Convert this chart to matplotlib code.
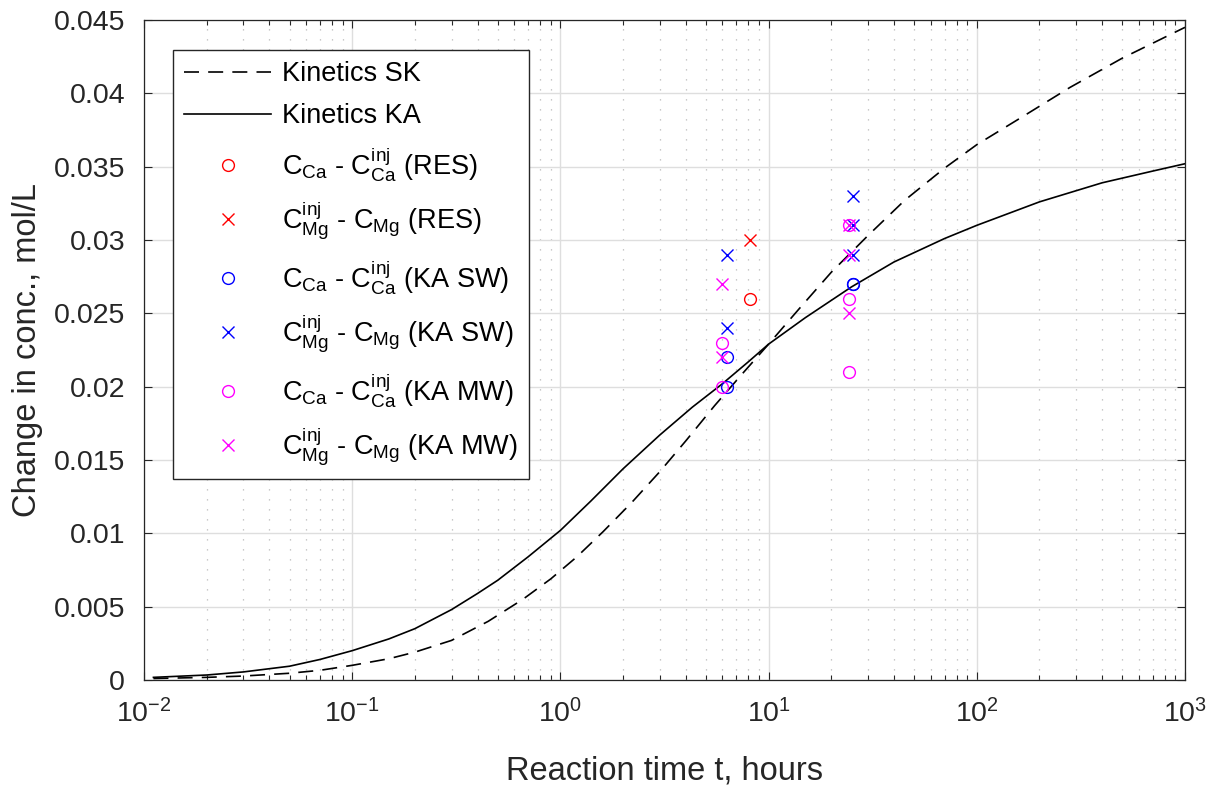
import matplotlib
matplotlib.use("Agg")
import matplotlib.pyplot as plt
from matplotlib.ticker import FixedLocator, FixedFormatter, LogLocator, NullFormatter

plt.rcParams['font.family'] = ['Liberation Sans', 'DejaVu Sans']
plt.rcParams['mathtext.default'] = 'regular'

# ---- data ----
t_ka = [0.0111, 0.02, 0.03, 0.05, 0.07, 0.1, 0.15, 0.2, 0.3, 0.4, 0.5, 0.7, 1.0, 1.4,
        2.0, 3.0, 4.3, 6.0, 8.0, 10, 15, 25, 40, 70, 100, 200, 400, 700, 1000]
c_ka = [0.00018, 0.00034, 0.00055, 0.00094, 0.0014, 0.0020, 0.0028, 0.0035, 0.0048,
        0.0059, 0.0068, 0.0084, 0.0102, 0.0122, 0.0144, 0.0167, 0.0186, 0.0202, 0.0217,
        0.0229, 0.0247, 0.0268, 0.0285, 0.0301, 0.0310, 0.0326, 0.0339, 0.0347, 0.0352]

t_sk = [0.0111, 0.02, 0.03, 0.05, 0.07, 0.1, 0.15, 0.2, 0.3, 0.45, 0.66, 0.9, 1.2, 1.6,
        2.2, 3.0, 4.0, 5.5, 7.5, 10, 14, 20, 30, 45, 70, 100, 170, 280, 500, 1000]
c_sk = [0.0001, 0.00018, 0.00027, 0.00046, 0.00066, 0.0010, 0.00145, 0.0019, 0.0027,
        0.0040, 0.0055, 0.0069, 0.0084, 0.0101, 0.0121, 0.0142, 0.0163, 0.0187, 0.0209,
        0.0229, 0.0253, 0.0278, 0.0303, 0.0327, 0.0349, 0.0365, 0.0385, 0.0404, 0.0424,
        0.0445]

# RES
t_res_ca = [8.1]
c_res_ca = [0.026]
t_res_mg = [8.1]
c_res_mg = [0.030]
# KA SW
t_sw_ca = [6.3, 6.3, 25.4, 25.4]
c_sw_ca = [0.022, 0.020, 0.027, 0.027]
t_sw_mg = [6.3, 6.3, 25.4, 25.4, 25.4]
c_sw_mg = [0.029, 0.024, 0.033, 0.031, 0.029]
# KA MW
t_mw_ca = [6.0, 6.0, 24.3, 24.3, 24.3]
c_mw_ca = [0.023, 0.020, 0.031, 0.026, 0.021]
t_mw_mg = [6.0, 6.0, 24.3, 24.3, 24.3]
c_mw_mg = [0.027, 0.022, 0.031, 0.029, 0.025]

y_ticks = [0, 0.005, 0.01, 0.015, 0.02, 0.025, 0.03, 0.035, 0.04, 0.045]
y_tick_labels = ['0', '0.005', '0.01', '0.015', '0.02', '0.025', '0.03', '0.035', '0.04', '0.045']

labels = ['Kinetics SK', 'Kinetics KA',
          r'C$_{Ca}$ - C$^{inj}_{Ca}$ (RES)',
          r'C$^{inj}_{Mg}$ - C$_{Mg}$ (RES)',
          r'C$_{Ca}$ - C$^{inj}_{Ca}$ (KA SW)',
          r'C$^{inj}_{Mg}$ - C$_{Mg}$ (KA SW)',
          r'C$_{Ca}$ - C$^{inj}_{Ca}$ (KA MW)',
          r'C$^{inj}_{Mg}$ - C$_{Mg}$ (KA MW)']

# ---- figure ----
dark = '#262626'
fig = plt.figure(figsize=(12.16, 7.85), dpi=100)
ax = fig.add_axes([144/1216, 1-680/785, (1185-144)/1216, (680-20)/785])

ax.plot(t_sk, c_sk, color='black', lw=1.2, dashes=(9, 5.5), label=labels[0])
ax.plot(t_ka, c_ka, color='black', lw=1.2, label=labels[1])

ms = 8.5
mew = 1.0
ax.plot(t_res_ca, c_res_ca, 'o', ms=ms, mfc='none', mec='red', mew=mew, label=labels[2])
ax.plot(t_res_mg, c_res_mg, 'x', ms=ms, mec='red', mew=mew, label=labels[3])
ax.plot(t_sw_ca, c_sw_ca, 'o', ms=ms, mfc='none', mec='blue', mew=mew, label=labels[4])
ax.plot(t_sw_mg, c_sw_mg, 'x', ms=ms, mec='blue', mew=mew, label=labels[5])
ax.plot(t_mw_ca, c_mw_ca, 'o', ms=ms, mfc='none', mec='magenta', mew=mew, label=labels[6])
ax.plot(t_mw_mg, c_mw_mg, 'x', ms=ms, mec='magenta', mew=mew, label=labels[7])

ax.set_xscale('log')
ax.set_xlim(1e-2, 1e3)
ax.set_ylim(0, 0.045)
ax.yaxis.set_major_locator(FixedLocator(y_ticks))
ax.yaxis.set_major_formatter(FixedFormatter(y_tick_labels))
ax.xaxis.set_major_locator(LogLocator(base=10, numticks=10))
ax.xaxis.set_minor_locator(LogLocator(base=10, subs=range(2, 10), numticks=20))
ax.xaxis.set_minor_formatter(NullFormatter())

ax.grid(True, which='major', color='#dedede', lw=1.0, ls='-')
ax.grid(True, which='minor', axis='x', color='#b8b8b8', lw=0.9, ls=(0, (1, 7)))
ax.set_axisbelow(True)

ax.tick_params(which='both', direction='in', top=True, right=True, colors=dark,
               labelsize=20.5, width=0.8)
ax.tick_params(which='major', length=6)
ax.tick_params(axis='y', which='major', pad=13.5)
ax.tick_params(axis='x', which='major', pad=13.5)
ax.tick_params(which='minor', length=3.5)
for sp in ax.spines.values():
    sp.set_color(dark)
    sp.set_linewidth(0.9)

ax.set_xlabel('Reaction time t, hours', fontsize=23.5, color=dark, labelpad=20)
ax.set_ylabel('Change in conc., mol/L', fontsize=23.5, color=dark, labelpad=8)

leg = ax.legend(loc='upper left', bbox_to_anchor=((173-144)/1041, 1-(50-20)/660),
                borderaxespad=0, fontsize=19.5, handlelength=3.2, handletextpad=0.4,
                labelspacing=0.58, fancybox=False, framealpha=1, edgecolor=dark,
                borderpad=0.42)
leg.get_frame().set_linewidth(1.0)

fig.savefig('out.png', dpi=100)
